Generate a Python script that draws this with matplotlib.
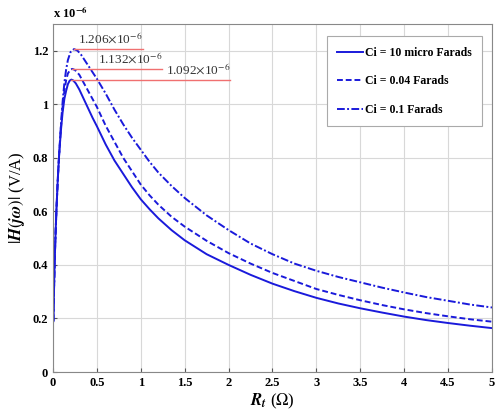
import matplotlib
matplotlib.use('Agg')
import matplotlib.pyplot as plt

plt.rcParams['font.family'] = 'Liberation Serif'
plt.rcParams['mathtext.fontset'] = 'stix'

# Данные (значения |H| в единицах 1e-6)
r_solid = [0.005, 0.01, 0.02, 0.03, 0.04, 0.055, 0.07, 0.09, 0.11, 0.13, 0.15, 0.17, 0.19,
           0.21, 0.23, 0.26, 0.3, 0.35, 0.4, 0.45, 0.5, 0.6, 0.7, 0.8, 0.9, 1.0, 1.1, 1.2,
           1.35, 1.5, 1.75, 2.0, 2.25, 2.5, 2.75, 3.0, 3.25, 3.5, 3.75, 4.0, 4.25, 4.5,
           4.75, 5.0]
h_solid = [0.19, 0.28, 0.42, 0.52, 0.61, 0.72, 0.81, 0.90, 0.97, 1.02, 1.05, 1.075, 1.088,
           1.092, 1.089, 1.078, 1.055, 1.02, 0.985, 0.95, 0.918, 0.85, 0.79, 0.74, 0.69,
           0.645, 0.608, 0.574, 0.53, 0.492, 0.44, 0.40, 0.363, 0.33, 0.302, 0.277, 0.256,
           0.238, 0.222, 0.207, 0.194, 0.183, 0.173, 0.164]

r_dash = [0.005, 0.01, 0.02, 0.03, 0.04, 0.055, 0.07, 0.09, 0.11, 0.13, 0.15, 0.17, 0.2,
          0.22, 0.25, 0.3, 0.35, 0.4, 0.45, 0.5, 0.6, 0.7, 0.8, 0.9, 1.0, 1.1, 1.2, 1.35,
          1.5, 1.75, 2.0, 2.25, 2.5, 2.75, 3.0, 3.25, 3.5, 3.75, 4.0, 4.25, 4.5, 4.75, 5.0]
h_dash = [0.19, 0.28, 0.42, 0.52, 0.61, 0.72, 0.81, 0.91, 0.99, 1.05, 1.09, 1.115, 1.13,
          1.132, 1.128, 1.11, 1.08, 1.05, 1.02, 0.99, 0.92, 0.86, 0.80, 0.75, 0.70, 0.66,
          0.625, 0.58, 0.543, 0.49, 0.444, 0.405, 0.37, 0.34, 0.31, 0.288, 0.268, 0.25,
          0.234, 0.22, 0.208, 0.197, 0.188]

r_dashdot = [0.005, 0.01, 0.02, 0.03, 0.04, 0.055, 0.07, 0.09, 0.11, 0.13, 0.15, 0.17, 0.2,
             0.24, 0.28, 0.32, 0.36, 0.4, 0.45, 0.5, 0.6, 0.7, 0.8, 0.9, 1.0, 1.1, 1.2,
             1.35, 1.5, 1.75, 2.0, 2.25, 2.5, 2.75, 3.0, 3.25, 3.5, 3.75, 4.0, 4.25, 4.5,
             4.75, 5.0]
h_dashdot = [0.19, 0.28, 0.42, 0.52, 0.61, 0.72, 0.81, 0.92, 1.01, 1.08, 1.13, 1.165, 1.195,
             1.206, 1.20, 1.185, 1.165, 1.145, 1.12, 1.095, 1.04, 0.98, 0.925, 0.875, 0.83,
             0.785, 0.745, 0.695, 0.65, 0.585, 0.53, 0.48, 0.44, 0.405, 0.378, 0.355, 0.335,
             0.315, 0.297, 0.28, 0.266, 0.252, 0.241]

labels = ['Ci = 10 micro Farads', 'Ci = 0.04 Farads', 'Ci = 0.1 Farads']

# пики и концы красных линий
peak_x = [0.24, 0.22, 0.21]
peak_y = [1.206, 1.132, 1.092]
line_end = [1.02, 1.245, 2.02]
peak_text = [r'1.206$\times$10$^{-6}$', r'1.132$\times$10$^{-6}$', r'1.092$\times$10$^{-6}$']

fig = plt.figure(figsize=(4.95, 4.12), dpi=100)
ax = fig.add_axes([0.107, 0.097, 0.887, 0.845])

blue = '#1a1adb'
ax.plot(r_solid, h_solid, '-', color=blue, linewidth=1.4, label=labels[0])
ax.plot(r_dash, h_dash, '--', color=blue, linewidth=1.4, dashes=(3, 1.5), label=labels[1])
ax.plot(r_dashdot, h_dashdot, '-.', color=blue, linewidth=1.4, dashes=(4, 1.2, 1, 1.2),
        label=labels[2])

for px, py, pe, pt in zip(peak_x, peak_y, line_end, peak_text):
    ax.plot([px, pe], [py, py], color='#f07070', linewidth=1.0)
    ax.text(pe, py + 0.008, pt, ha='right', va='bottom', fontsize=9.5, color='#333333')

ax.set_xlim(0, 5)
ax.set_ylim(0, 1.3)
ax.set_xticks([0, 0.5, 1, 1.5, 2, 2.5, 3, 3.5, 4, 4.5, 5])
ax.set_xticklabels(['0', '0.5', '1', '1.5', '2', '2.5', '3', '3.5', '4', '4.5', '5'])
ax.set_yticks([0, 0.2, 0.4, 0.6, 0.8, 1.0, 1.2])
ax.set_yticklabels(['0', '0.2', '0.4', '0.6', '0.8', '1', '1.2'])
ax.tick_params(direction='in', labelsize=9, length=3, color='#555555')
for lab in ax.get_xticklabels() + ax.get_yticklabels():
    lab.set_fontweight('bold')
for s in ax.spines.values():
    s.set_color('#888888')
    s.set_linewidth(0.8)
ax.grid(True, color='#d8d8d8', linewidth=0.8)

ax.text(0.0, 1.008, r'x 10$^{\mathbf{-6}}$', transform=ax.transAxes, fontsize=9,
        fontweight='bold', ha='left', va='bottom')

ax.set_xlabel(r'$\mathbfit{R}_{\mathbfit{t}}$ ($\Omega$)', fontsize=12, labelpad=2)
ax.set_ylabel(r'$|\mathbfit{H}(\mathbfit{j\omega})|$ (V/A)', fontsize=12, labelpad=4)

leg = ax.legend(loc='upper right', bbox_to_anchor=(0.985, 0.975),
                prop={'weight': 'bold', 'size': 8.5}, fancybox=False, framealpha=1,
                edgecolor='#aaaaaa', handlelength=2.2, handletextpad=0.1,
                labelspacing=1.4, borderpad=0.9, borderaxespad=0.3)
leg.get_frame().set_linewidth(0.8)

fig.savefig('out.png', dpi=100)
